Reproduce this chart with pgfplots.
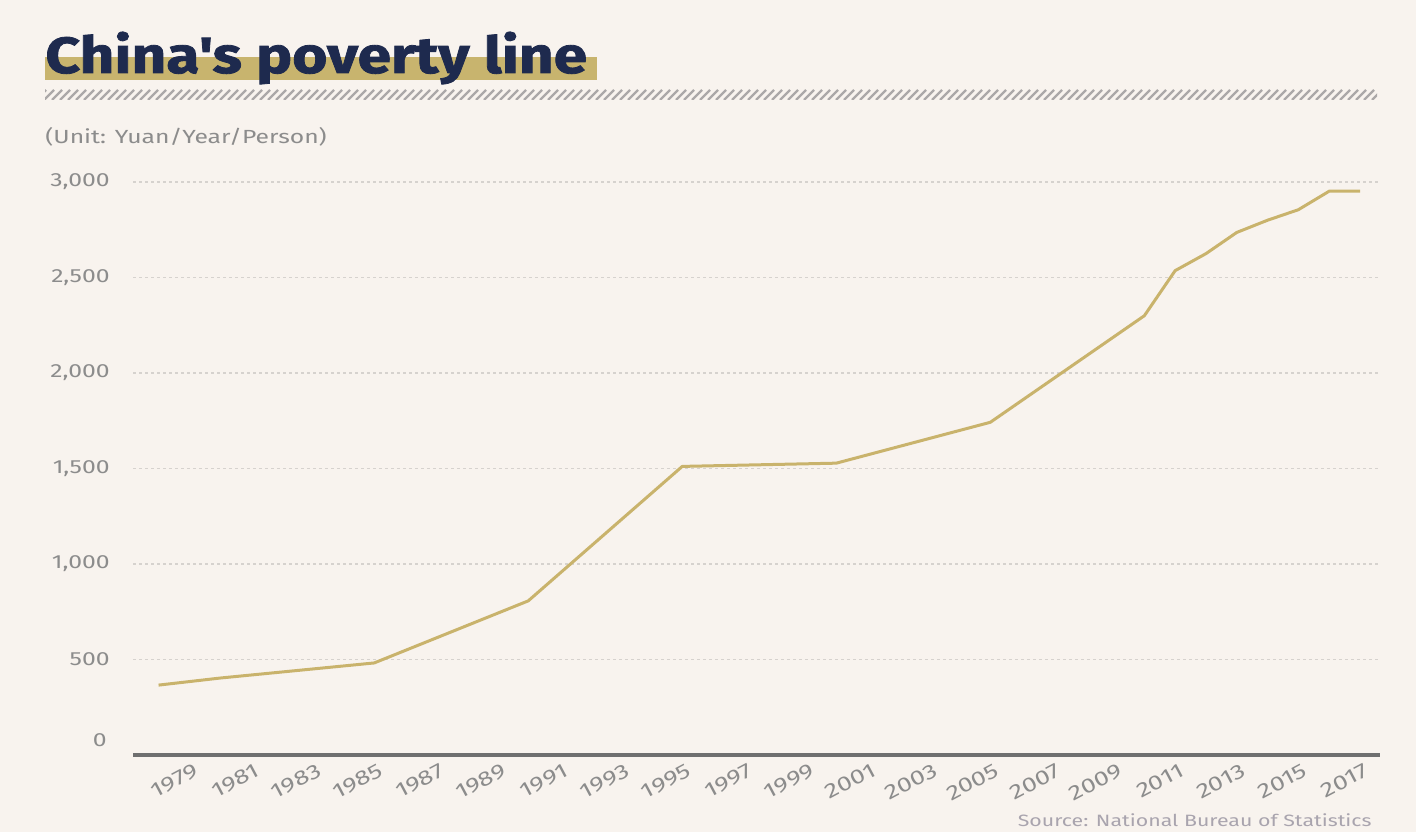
\documentclass[border=0pt]{standalone}
\usepackage{pgfplots}
\pgfplotsset{compat=1.18}
\usepackage{fontspec}
\setmainfont{Fira Sans}
\newfontfamily\labelfont{Fira Sans}[FakeStretch=1.3]
\newfontfamily\titlefont{Fira Sans}[FakeStretch=1.19, BoldFeatures={FakeBold=1.6}]
\definecolor{bg}{HTML}{F8F3EE}
\definecolor{navy}{HTML}{1E2A4E}
\definecolor{bar}{HTML}{C8B46E}
\definecolor{gold}{HTML}{C9B36C}
\definecolor{txtgray}{HTML}{8C8C8C}
\definecolor{axgray}{HTML}{6F6F6F}
\definecolor{gridgray}{HTML}{D6D2CE}
\definecolor{srcgray}{HTML}{A9A4AE}
\definecolor{hatch}{HTML}{ABA8A8}
\pgfplotstableread{
year value
1978 366
1980 403
1985 482
1990 807
1995 1511
2000 1528
2005 1742
2010 2300
2011 2536
2012 2625
2013 2736
2014 2800
2015 2855
2016 2952
2017 2952
}\poverty
\begin{document}
\begin{tikzpicture}
\fill[bg] (0,0) rectangle (708pt,416pt);
\useasboundingbox (0,0) rectangle (708pt,416pt);
% title bar and title
\fill[bar] (22.5pt,376pt) rectangle (298.5pt,387.5pt);
\node[anchor=base west, inner sep=0pt, text=navy, font=\titlefont\bfseries\fontsize{25.4pt}{28pt}\selectfont] at (22.5pt,379.5pt) {China's poverty line};
% hatch band
\begin{scope}
\clip (22.5pt,366pt) rectangle (688.5pt,371pt);
\foreach \i in {0,...,170} {
  \draw[hatch, line width=1.2pt] ({18pt+\i*4pt},366pt) -- ++(5pt,5pt);
}
\end{scope}
% unit
\node[anchor=base west, inner sep=0pt, text=txtgray, font=\labelfont\fontsize{9.5pt}{11pt}\selectfont] at (22.5pt,344.5pt) {(Unit: Yuan/Year/Person)};
% source
\node[anchor=base east, inner sep=0pt, text=srcgray, font=\labelfont\fontsize{8.2pt}{10pt}\selectfont] at (686pt,3pt) {Source: National Bureau of Statistics};
\begin{axis}[
  at={(66.5pt,38.5pt)}, anchor=south west,
  scale only axis, width=623.5pt, height=286.5pt,
  xmin=1977.17, xmax=2017.65, ymin=0, ymax=3000,
  axis line style={draw=none},
  tick style={draw=none},
  clip=false,
  ytick={500,1000,...,3000},
  yticklabels={500,{1,000},{1,500},{2,000},{2,500},{3,000}},
  extra y ticks={0},
  extra y tick labels={0},
  extra y tick style={grid=none, yticklabel style={yshift=7.5pt, xshift=-1.5pt}},
  ymajorgrids,
  grid style={gridgray, line width=0.6pt, dash pattern=on 1.5pt off 1.5pt},
  xtick={1979,1981,...,2017},
  /pgf/number format/1000 sep={},
  /pgf/number format/assume math mode=true,
  ticklabel style={font=\labelfont\fontsize{9.5pt}{11pt}\selectfont, text=txtgray},
  yticklabel style={anchor=east, inner sep=0pt, xshift=-11.5pt},
  xticklabel style={rotate=28, anchor=north east, inner sep=0pt, yshift=-4pt, font=\labelfont\fontsize{10.2pt}{11pt}\selectfont},
]
\draw[axgray, line width=2pt] (rel axis cs:0,0) -- (rel axis cs:1,0);
\addplot[gold, line width=1.5pt, line join=round, mark=none] table[x=year, y=value] {\poverty};
\end{axis}
\end{tikzpicture}
\end{document}
